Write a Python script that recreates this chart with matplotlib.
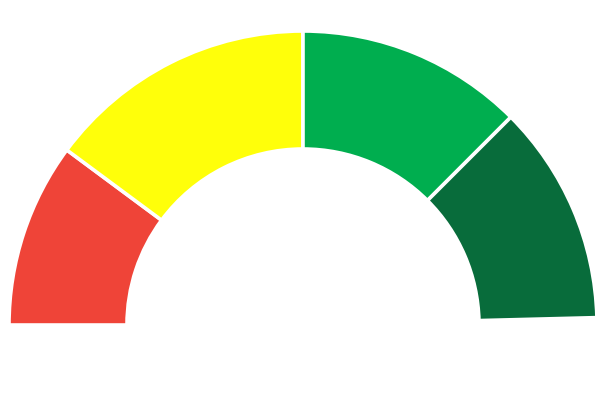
import matplotlib
matplotlib.use("Agg")
import matplotlib.pyplot as plt

# gauge bands, as share of the half circle
bands = ["red", "yellow", "green", "dark green"]
shares = [20.3, 29.7, 25.0, 24.2]
colors = ["#EF4438", "#FFFF0A", "#00AE4F", "#086C3B"]

hidden = 200 - sum(shares)  # lower half of the pie, not shown

fig = plt.figure(figsize=(6.12, 4.08), dpi=100)
ax = fig.add_axes([0, 0, 1, 1])

wedges, _ = ax.pie(shares + [hidden], colors=colors + ["white"],
                   startangle=180, counterclock=False, radius=294,
                   wedgeprops=dict(width=118, edgecolor="white", linewidth=2.6))
wedges[-1].set_visible(False)

ax.set_xlim(-303, 309)
ax.set_ylim(-83, 325)
ax.set_aspect("equal")
ax.axis("off")

fig.savefig("out.png", dpi=100)
